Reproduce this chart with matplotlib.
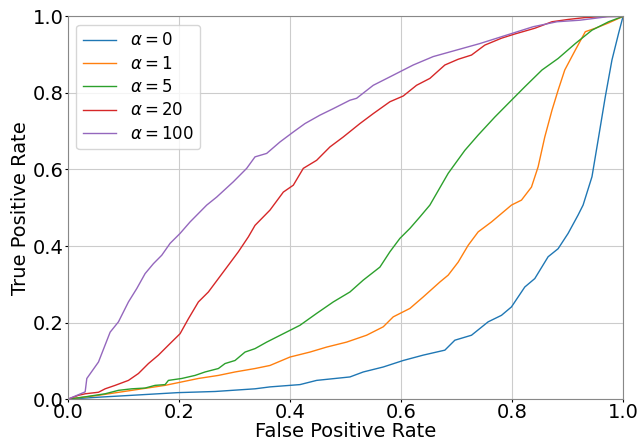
import numpy as np
import matplotlib.pyplot as plt

# ROC curves (FPR, TPR)
fpr_a0 = [0, 0.054, 0.115, 0.198, 0.265, 0.337, 0.364, 0.418, 0.448, 0.508, 0.532, 0.568,
          0.604, 0.640, 0.670, 0.679, 0.697, 0.727, 0.757, 0.781, 0.799, 0.823, 0.841,
          0.865, 0.883, 0.901, 0.919, 0.928, 0.944, 0.956, 0.968, 0.980, 0.992, 1.0]
tpr_a0 = [0, 0.005, 0.010, 0.017, 0.020, 0.027, 0.032, 0.038, 0.049, 0.058, 0.071, 0.084,
          0.101, 0.115, 0.125, 0.128, 0.154, 0.167, 0.202, 0.219, 0.241, 0.293, 0.315,
          0.372, 0.393, 0.433, 0.481, 0.507, 0.581, 0.685, 0.790, 0.886, 0.956, 1.0]

fpr_a1 = [0, 0.055, 0.115, 0.175, 0.205, 0.235, 0.271, 0.301, 0.337, 0.364, 0.400, 0.436,
          0.466, 0.502, 0.538, 0.568, 0.586, 0.616, 0.640, 0.670, 0.685, 0.703, 0.721,
          0.739, 0.763, 0.799, 0.817, 0.835, 0.847, 0.859, 0.872, 0.883, 0.895, 0.914,
          0.932, 0.950, 0.974, 1.0]
tpr_a1 = [0, 0.010, 0.023, 0.036, 0.045, 0.054, 0.062, 0.071, 0.080, 0.088, 0.110, 0.123,
          0.136, 0.149, 0.167, 0.189, 0.215, 0.237, 0.267, 0.306, 0.324, 0.358, 0.402,
          0.437, 0.463, 0.507, 0.520, 0.554, 0.607, 0.685, 0.755, 0.807, 0.860, 0.912,
          0.960, 0.969, 0.983, 1.0]

fpr_a5 = [0, 0.031, 0.067, 0.091, 0.115, 0.139, 0.157, 0.175, 0.181, 0.205, 0.229, 0.247,
          0.271, 0.283, 0.301, 0.319, 0.337, 0.358, 0.388, 0.418, 0.448, 0.478, 0.508,
          0.532, 0.562, 0.580, 0.598, 0.616, 0.634, 0.652, 0.685, 0.715, 0.739, 0.769,
          0.799, 0.823, 0.854, 0.883, 0.914, 0.944, 0.974, 1.0]
tpr_a5 = [0, 0.006, 0.014, 0.023, 0.027, 0.029, 0.036, 0.038, 0.049, 0.054, 0.062, 0.071,
          0.080, 0.093, 0.101, 0.123, 0.132, 0.149, 0.171, 0.193, 0.224, 0.254, 0.280,
          0.311, 0.345, 0.385, 0.420, 0.446, 0.476, 0.507, 0.590, 0.650, 0.690, 0.737,
          0.781, 0.816, 0.860, 0.890, 0.929, 0.964, 0.986, 1.0]

fpr_a20 = [0, 0.019, 0.031, 0.055, 0.067, 0.085, 0.109, 0.127, 0.145, 0.163, 0.181, 0.202,
           0.217, 0.235, 0.253, 0.271, 0.289, 0.307, 0.325, 0.337, 0.364, 0.388, 0.406,
           0.424, 0.448, 0.472, 0.496, 0.526, 0.550, 0.580, 0.604, 0.628, 0.652, 0.679,
           0.703, 0.727, 0.751, 0.781, 0.805, 0.841, 0.872, 0.901, 0.932, 0.974, 1.0]
tpr_a20 = [0, 0.010, 0.014, 0.018, 0.027, 0.036, 0.049, 0.067, 0.093, 0.115, 0.141, 0.171,
           0.210, 0.254, 0.280, 0.315, 0.350, 0.385, 0.424, 0.454, 0.494, 0.541, 0.559,
           0.603, 0.624, 0.659, 0.685, 0.720, 0.746, 0.777, 0.792, 0.820, 0.838, 0.873,
           0.888, 0.899, 0.925, 0.943, 0.954, 0.969, 0.986, 0.992, 0.997, 1.0, 1.0]

fpr_a100 = [0, 0.031, 0.034, 0.055, 0.076, 0.091, 0.109, 0.124, 0.139, 0.154, 0.169, 0.184,
            0.202, 0.220, 0.235, 0.250, 0.268, 0.298, 0.322, 0.337, 0.358, 0.382, 0.406,
            0.427, 0.454, 0.478, 0.508, 0.520, 0.550, 0.580, 0.622, 0.658, 0.700, 0.742,
            0.790, 0.838, 0.881, 0.922, 0.971, 1.0]
tpr_a100 = [0, 0.019, 0.054, 0.097, 0.175, 0.202, 0.254, 0.289, 0.328, 0.354, 0.376, 0.407,
            0.433, 0.463, 0.485, 0.507, 0.528, 0.568, 0.603, 0.633, 0.642, 0.672, 0.698,
            0.720, 0.742, 0.759, 0.781, 0.786, 0.820, 0.842, 0.873, 0.895, 0.912, 0.929,
            0.951, 0.973, 0.986, 0.990, 0.999, 1.0]

alphas = [0, 1, 5, 20, 100]
curves = [(fpr_a0, tpr_a0), (fpr_a1, tpr_a1), (fpr_a5, tpr_a5),
          (fpr_a20, tpr_a20), (fpr_a100, tpr_a100)]

fig, ax = plt.subplots(figsize=(6.41, 4.43), dpi=100)
fig.subplots_adjust(left=0.106, right=0.972, top=0.963, bottom=0.099)

for a, (f, t) in zip(alphas, curves):
    ax.plot(f, t, lw=1.0, label=r'$\alpha = %d$' % a)

ax.set_xlim(0, 1)
ax.set_ylim(0, 1)
ax.grid(True, color='#cccccc', lw=0.8)
ax.set_xlabel('False Positive Rate', fontsize=14, labelpad=0)
ax.set_ylabel('True Positive Rate', fontsize=14, labelpad=2)
ax.tick_params(labelsize=14, length=2, pad=1)
for s in ax.spines.values():
    s.set_color('#888888')
ax.legend(loc='upper left', fontsize=12, labelspacing=0.32)

plt.savefig('out.png')
